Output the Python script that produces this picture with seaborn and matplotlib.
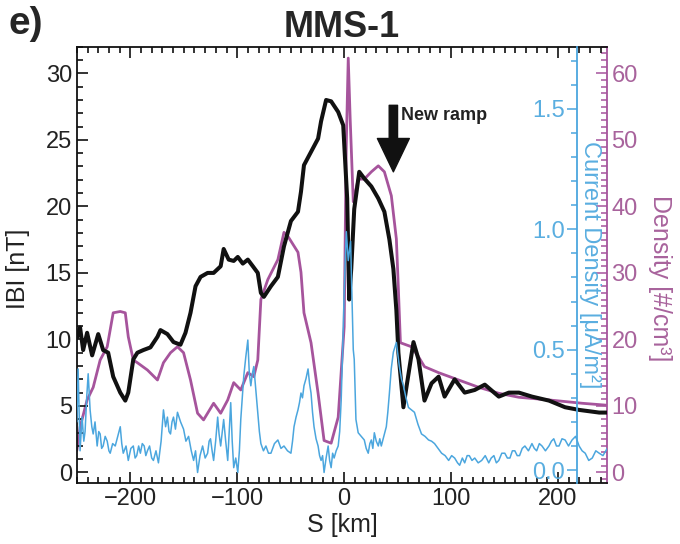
import matplotlib
matplotlib.use("Agg")
import matplotlib.pyplot as plt
import seaborn as sns
import pandas as pd
from matplotlib.ticker import MultipleLocator, FormatStrFormatter

# |B| along the normal coordinate S
s_b = [-250.0, -247.0, -244.1, -240.4, -235.7, -230.0, -225.4, -220.7, -216.0, -209.4,
       -204.7, -201.9, -197.2, -193.4, -187.8, -181.2, -174.6, -171.8, -165.3, -159.6,
       -153.1, -148.4, -143.7, -139.0, -134.3, -127.7, -122.1, -115.5, -112.7, -108.0,
       -103.3, -99.5, -94.8, -90.1, -85.4, -80.8, -77.9, -75.1, -68.5, -62.0,
       -56.3, -49.8, -43.2, -40.4, -37.6, -31.0, -24.4, -21.6, -16.9, -12.2,
       -5.6, -0.9, 2.8, 4.7, 6.6, 9.4, 14.1, 18.8, 25.4, 31.9,
       37.6, 42.3, 46.0, 48.8, 50.7, 55.4, 58.2, 64.8, 69.5, 75.1,
       81.7, 88.3, 93.9, 103.3, 112.7, 122.1, 131.5, 144.6, 154.0, 163.4,
       175.6, 191.5, 206.6, 219.7, 238.5, 246.0]
b_mag = [10.1, 10.9, 9.2, 10.5, 8.8, 10.4, 9.2, 9.0, 7.2, 6.0,
         5.4, 6.0, 8.5, 9.0, 9.2, 9.4, 10.2, 10.7, 10.4, 9.8,
         9.6, 10.5, 12.0, 14.0, 14.7, 15.0, 15.0, 15.5, 16.8, 16.0,
         15.9, 16.2, 15.7, 16.0, 15.5, 15.0, 13.5, 13.2, 14.0, 14.7,
         17.0, 18.9, 19.6, 21.1, 23.1, 24.1, 25.1, 26.4, 28.0, 27.9,
         27.1, 26.1, 20.6, 13.0, 15.3, 19.8, 22.6, 22.1, 21.5, 20.6,
         19.6, 17.5, 15.3, 12.2, 9.0, 4.9, 6.4, 9.8, 8.5, 5.4,
         6.7, 7.2, 5.7, 7.0, 6.0, 6.2, 6.6, 5.7, 6.0, 6.0,
         5.7, 5.4, 4.9, 4.7, 4.5, 4.5]

# ion density
s_n = [-250.0, -247.0, -240.4, -234.7, -228.2, -221.6, -216.0, -209.4, -204.7, -201.9,
       -197.2, -193.4, -184.0, -174.6, -169.0, -162.4, -155.9, -150.2, -143.7, -137.1,
       -131.5, -122.1, -115.5, -108.9, -103.3, -96.7, -90.1, -84.5, -80.8, -77.9,
       -71.4, -62.0, -56.3, -52.6, -43.2, -40.4, -37.6, -31.0, -24.4, -18.8,
       -12.2, -5.6, 0.0, 1.9, 3.8, 5.6, 8.5, 13.1, 18.8, 25.4,
       31.9, 37.6, 44.1, 48.8, 50.7, 52.6, 62.9, 69.5, 75.1, 88.3,
       107.0, 125.8, 144.6, 163.4, 191.5, 222.5, 246.0]
density = [3.3, 6.8, 10.9, 12.8, 16.9, 18.9, 24.0, 24.2, 24.0, 20.4,
           16.9, 16.5, 15.4, 13.9, 16.5, 18.0, 18.9, 18.0, 13.9, 8.9,
           7.9, 10.4, 8.9, 10.9, 13.5, 12.4, 15.0, 14.4, 16.9, 26.0,
           29.0, 32.0, 36.1, 35.5, 33.1, 30.1, 24.0, 19.5, 11.9, 4.8,
           4.4, 8.3, 21.9, 48.7, 62.3, 53.2, 40.7, 44.1, 44.1, 45.2,
           46.1, 45.2, 41.6, 35.1, 27.5, 19.5, 18.9, 17.4, 15.9, 15.0,
           13.9, 12.8, 11.9, 11.3, 10.9, 10.4, 10.1]

# current density
s_j = [-250.0, -248.8, -247.0, -245.1, -243.5, -242.3, -240.8, -239.4, -237.6, -236.0,
       -234.7, -233.0, -231.0, -229.5, -228.2, -226.8, -225.4, -223.5, -221.6, -220.0,
       -218.8, -216.5, -214.1, -211.8, -209.4, -208.0, -206.6, -204.0, -201.9, -199.5,
       -197.2, -195.5, -194.0, -192.2, -190.6, -188.8, -187.0, -185.5, -184.0, -182.0,
       -180.0, -178.4, -176.0, -173.7, -171.2, -169.0, -167.0, -165.3, -163.8, -162.4,
       -161.0, -159.6, -157.8, -155.9, -153.0, -150.2, -148.0, -145.5, -143.0, -140.8,
       -139.0, -137.1, -134.8, -132.4, -130.0, -127.7, -126.3, -125.0, -123.5, -122.1,
       -120.2, -118.3, -117.0, -115.5, -114.0, -112.7, -110.8, -108.9, -107.5, -106.1,
       -104.7, -103.3, -101.4, -99.5, -98.0, -96.7, -95.3, -93.9, -92.0, -90.1,
       -88.7, -87.3, -85.9, -84.5, -82.6, -80.8, -79.3, -77.9, -75.5, -73.2,
       -70.8, -68.5, -65.2, -62.0, -59.1, -56.3, -53.0, -49.8, -48.3, -46.9,
       -45.0, -43.2, -41.8, -40.4, -39.0, -37.6, -35.7, -33.8, -32.4, -31.0,
       -29.6, -28.2, -26.3, -24.4, -23.0, -21.6, -20.2, -18.8, -16.9, -15.0,
       -13.6, -12.2, -10.8, -9.4, -7.5, -5.6, -4.2, -2.8, -1.4, 0.0,
       2.0, 3.8, 6.0, 8.5, 9.4, 11.0, 13.1, 16.0, 18.8, 20.6,
       22.5, 24.0, 25.4, 26.8, 28.2, 30.0, 31.9, 33.3, 34.7, 37.0,
       39.4, 40.8, 42.3, 44.0, 46.0, 48.8, 51.6, 53.5, 55.4, 57.8,
       60.1, 62.9, 65.7, 69.0, 72.3, 75.6, 78.9, 81.7, 84.5, 87.8,
       91.1, 94.4, 97.7, 100.5, 103.3, 106.0, 108.0, 110.5, 112.7, 115.0,
       117.0, 119.5, 122.1, 125.3, 128.6, 131.9, 135.2, 137.5, 140.0, 142.3,
       144.6, 147.4, 150.2, 152.6, 155.0, 157.3, 159.6, 161.8, 164.0, 166.5,
       169.0, 172.3, 175.6, 177.8, 180.0, 182.5, 185.0, 188.2, 191.5, 193.8,
       196.0, 198.5, 200.9, 203.7, 206.6, 209.8, 213.1, 216.4, 219.7, 222.5,
       225.4, 228.7, 232.0, 235.3, 238.5, 242.0, 246.0]
current = [0.20, 0.42, 0.08, 0.22, 0.12, 0.16, 0.30, 0.40, 0.25, 0.18,
           0.15, 0.20, 0.10, 0.16, 0.15, 0.09, 0.10, 0.14, 0.12, 0.08,
           0.07, 0.11, 0.10, 0.14, 0.18, 0.11, 0.07, 0.10, 0.04, 0.09,
           0.10, 0.05, 0.06, 0.10, 0.07, 0.11, 0.10, 0.06, 0.08, 0.10,
           0.05, 0.04, 0.08, 0.03, 0.12, 0.25, 0.18, 0.22, 0.16, 0.15,
           0.20, 0.22, 0.17, 0.24, 0.20, 0.17, 0.12, 0.14, 0.08, 0.04,
           0.08, -0.01, 0.06, 0.10, 0.05, 0.07, 0.12, 0.13, 0.08, 0.04,
           0.12, 0.22, 0.15, 0.10, 0.16, 0.21, 0.12, 0.04, 0.16, 0.28,
           0.12, 0.01, 0.05, -0.01, 0.08, 0.21, 0.30, 0.39, 0.47, 0.54,
           0.40, 0.35, 0.40, 0.43, 0.33, 0.24, 0.16, 0.11, 0.08, 0.10,
           0.07, 0.07, 0.11, 0.125, 0.09, 0.10, 0.08, 0.07, 0.12, 0.18,
           0.22, 0.25, 0.28, 0.32, 0.30, 0.35, 0.38, 0.42, 0.36, 0.32,
           0.24, 0.18, 0.13, 0.10, 0.06, 0.04, 0.06, -0.01, 0.05, 0.10,
           0.04, 0.01, 0.07, 0.05, 0.08, 0.10, 0.16, 0.29, 0.50, 0.74,
           0.99, 0.87, 0.95, 0.50, 0.46, 0.21, 0.155, 0.14, 0.125, 0.09,
           0.07, 0.11, 0.125, 0.09, 0.155, 0.12, 0.10, 0.13, 0.10, 0.14,
           0.18, 0.24, 0.32, 0.42, 0.49, 0.53, 0.43, 0.38, 0.35, 0.30,
           0.26, 0.25, 0.24, 0.19, 0.15, 0.14, 0.125, 0.12, 0.11, 0.09,
           0.07, 0.06, 0.04, 0.06, 0.05, 0.03, 0.02, 0.05, 0.03, 0.06,
           0.06, 0.04, 0.05, 0.03, 0.04, 0.06, 0.03, 0.05, 0.06, 0.03,
           0.04, 0.07, 0.07, 0.05, 0.05, 0.08, 0.08, 0.06, 0.06, 0.09,
           0.10, 0.08, 0.11, 0.09, 0.08, 0.11, 0.10, 0.08, 0.10, 0.12,
           0.13, 0.10, 0.10, 0.13, 0.125, 0.10, 0.125, 0.14, 0.10, 0.08,
           0.07, 0.04, 0.05, 0.08, 0.07, 0.06, 0.09]

BLACK = "#111111"
MAGENTA = "#a6549c"
MAG_TXT = "#a8639c"
BLUE = "#4ba6de"
BLUE_TXT = "#5aaee0"

sns.set_style("ticks")
plt.rcParams["font.family"] = ["Liberation Sans", "DejaVu Sans"]

fig = plt.figure(figsize=(6.8, 5.44), dpi=100)
ax = fig.add_axes([0.113, 0.112, 0.780, 0.802])
ax_n = ax.twinx()
ax_j = ax.twinx()

# stacking: density underneath, |B| above it, current density on top
ax_n.set_zorder(1)
ax.set_zorder(2)
ax_j.set_zorder(3)
ax.patch.set_visible(False)
ax_j.patch.set_visible(False)

df_b = pd.DataFrame({"S": s_b, "B": b_mag})
df_n = pd.DataFrame({"S": s_n, "n": density})
df_j = pd.DataFrame({"S": s_j, "J": current})

sns.lineplot(data=df_n, x="S", y="n", ax=ax_n, color=MAGENTA, lw=2.0, estimator=None)
sns.lineplot(data=df_b, x="S", y="B", ax=ax, color=BLACK, lw=2.9, estimator=None)
sns.lineplot(data=df_j, x="S", y="J", ax=ax_j, color=BLUE, lw=1.1, estimator=None)

ax.set_xlim(-250, 246)
ax.set_ylim(-0.8, 32.0)
ax_n.set_ylim(-1.6, 64.0)
ax_j.set_ylim(-0.054, 1.758)

# |B| axis (left, bottom, top)
for side in ["left", "bottom", "top"]:
    ax.spines[side].set_color(BLACK)
    ax.spines[side].set_linewidth(1.3)
ax.spines["right"].set_visible(False)
ax.xaxis.set_major_locator(MultipleLocator(100))
ax.xaxis.set_minor_locator(MultipleLocator(10))
ax.yaxis.set_major_locator(MultipleLocator(5))
ax.yaxis.set_minor_locator(MultipleLocator(1))
ax.tick_params(axis="both", which="both", direction="in", top=True, right=False,
               labelsize=17, labelcolor="#222222", color=BLACK, width=1.2)
ax.tick_params(which="major", length=8)
ax.tick_params(which="minor", length=4)
ax.set_xlabel("S [km]", fontsize=18, color="#222222", labelpad=2)
ax.set_ylabel("IBI [nT]", fontsize=18, color="#222222")
ax.yaxis.set_label_coords(-0.088, 0.49)
ax.set_title("MMS-1", fontsize=26, fontweight="bold", pad=7)

# density axis (right edge)
for side in ["left", "bottom", "top"]:
    ax_n.spines[side].set_visible(False)
ax_n.spines["right"].set_color(MAGENTA)
ax_n.spines["right"].set_linewidth(1.3)
ax_n.yaxis.set_major_locator(MultipleLocator(10))
ax_n.yaxis.set_minor_locator(MultipleLocator(1))
ax_n.tick_params(axis="y", which="both", direction="in", color=MAGENTA,
                 labelcolor=MAG_TXT, labelsize=17, width=1.1, pad=3)
ax_n.tick_params(axis="y", which="major", length=8)
ax_n.tick_params(axis="y", which="minor", length=4)
ax_n.set_ylabel("Density [#/cm³]", fontsize=18, color=MAG_TXT, rotation=270,
                va="center", ha="center")
ax_n.yaxis.set_label_coords(1.10, 0.47)

# current density axis (inner spine)
for side in ["right", "bottom", "top"]:
    ax_j.spines[side].set_visible(False)
ax_j.spines["left"].set_visible(True)
ax_j.spines["left"].set_position(("axes", 0.943))
ax_j.spines["left"].set_color(BLUE)
ax_j.spines["left"].set_linewidth(1.3)
ax_j.yaxis.set_ticks_position("left")
ax_j.yaxis.set_major_locator(MultipleLocator(0.5))
ax_j.yaxis.set_minor_locator(MultipleLocator(0.1))
ax_j.yaxis.set_major_formatter(FormatStrFormatter("%.1f"))
ax_j.tick_params(axis="y", which="both", direction="out", color=BLUE,
                 labelcolor=BLUE_TXT, labelsize=17, width=1.1, pad=2)
ax_j.tick_params(axis="y", which="major", length=7)
ax_j.tick_params(axis="y", which="minor", length=4)
ax_j.set_ylabel("Current Density [μA/m²]", fontsize=17, color=BLUE_TXT, rotation=270,
                va="center", ha="center")
ax_j.yaxis.set_label_coords(0.968, 0.50)

# new ramp marker
ax.annotate("", xy=(46, 22.6), xytext=(46, 27.6),
            arrowprops=dict(width=6, headwidth=23, headlength=24, color=BLACK, shrink=0))
ax.text(53.5, 26.8, "New ramp", fontsize=13, fontweight="bold", color="#222222",
        va="center", ha="left")

fig.text(0.012, 0.955, "e)", fontsize=28, fontweight="bold", va="center", ha="left")

fig.savefig("out.png", dpi=100)
